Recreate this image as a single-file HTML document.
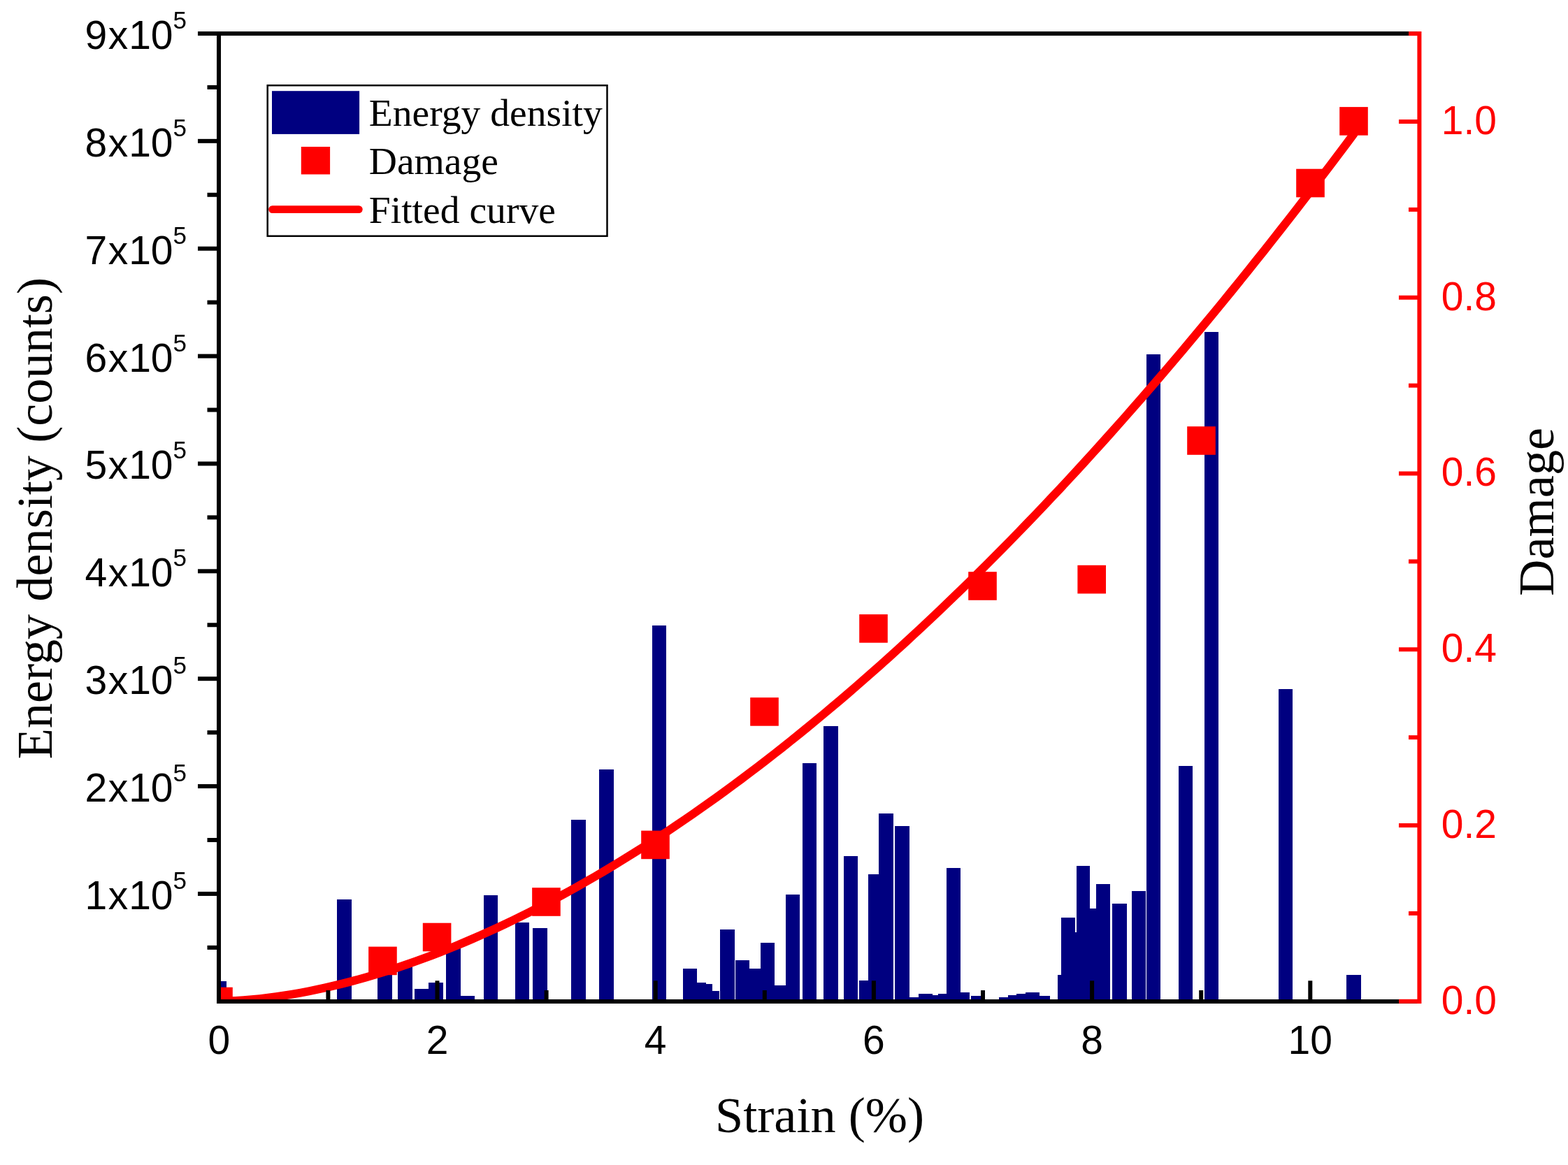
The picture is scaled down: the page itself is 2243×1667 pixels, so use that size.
<!DOCTYPE html><html><head><meta charset="utf-8"><title>Energy density and damage vs strain</title><style>html,body{margin:0;padding:0;background:#fff;}svg{display:block;}</style></head><body>
<svg width="2243" height="1667" viewBox="0 0 2243 1667">
<rect x="0" y="0" width="2243" height="1667" fill="#fff"/>
<defs><clipPath id="pc"><rect x="313.0" y="48.0" width="1717.4" height="1384.8"/></clipPath></defs>
<g clip-path="url(#pc)" fill="#000080" shape-rendering="crispEdges">
<rect x="303" y="1403.8" width="20.7" height="32.2"/>
<rect x="482.2" y="1287.2" width="20.6" height="148.8"/>
<rect x="540.2" y="1375" width="20.7" height="61"/>
<rect x="569.1" y="1378" width="20.7" height="58"/>
<rect x="593.1" y="1415.2" width="20.0" height="20.8"/>
<rect x="613.1" y="1406.2" width="20.8" height="29.8"/>
<rect x="638.1" y="1350" width="20.8" height="86"/>
<rect x="658.9" y="1425.1" width="20.1" height="10.9"/>
<rect x="691.9" y="1281" width="20.2" height="155"/>
<rect x="737.2" y="1320" width="19.7" height="116"/>
<rect x="762" y="1328.2" width="20.9" height="107.8"/>
<rect x="817.3" y="1173.2" width="20.6" height="262.8"/>
<rect x="857.1" y="1100.9" width="21.0" height="335.1"/>
<rect x="933.1" y="895.2" width="19.9" height="540.8"/>
<rect x="977.3" y="1386.1" width="19.6" height="49.9"/>
<rect x="996.9" y="1406.3" width="13.5" height="29.7"/>
<rect x="1010.4" y="1407.9" width="8.6" height="28.1"/>
<rect x="1019" y="1418" width="9.9" height="18"/>
<rect x="1030.2" y="1330.1" width="20.5" height="105.9"/>
<rect x="1052.2" y="1374.1" width="19.7" height="61.9"/>
<rect x="1071.9" y="1386.1" width="16.2" height="49.9"/>
<rect x="1088.1" y="1349.1" width="19.9" height="86.9"/>
<rect x="1108" y="1410" width="16" height="26"/>
<rect x="1124" y="1280.1" width="19.9" height="155.9"/>
<rect x="1148.2" y="1092.2" width="19.6" height="343.8"/>
<rect x="1178.3" y="1039.1" width="20.8" height="396.9"/>
<rect x="1207.2" y="1224.9" width="19.7" height="211.1"/>
<rect x="1229.1" y="1403.1" width="12.9" height="32.9"/>
<rect x="1242" y="1251" width="15" height="185"/>
<rect x="1257" y="1164.1" width="21" height="271.9"/>
<rect x="1280" y="1182.1" width="21" height="253.9"/>
<rect x="1301" y="1427.1" width="13.1" height="8.9"/>
<rect x="1314.1" y="1422" width="19.9" height="14"/>
<rect x="1334" y="1424.2" width="8.2" height="11.8"/>
<rect x="1342.2" y="1422" width="11.7" height="14"/>
<rect x="1353.9" y="1241.9" width="20.0" height="194.1"/>
<rect x="1373.9" y="1419.9" width="13.0" height="16.1"/>
<rect x="1389" y="1424.9" width="19.5" height="11.1"/>
<rect x="1429.1" y="1427.1" width="12.9" height="8.9"/>
<rect x="1442" y="1424.2" width="12" height="11.8"/>
<rect x="1454" y="1422" width="13.1" height="14"/>
<rect x="1467.1" y="1420" width="19.4" height="16"/>
<rect x="1486.5" y="1424.9" width="15.5" height="11.1"/>
<rect x="1513" y="1394.9" width="5" height="41.1"/>
<rect x="1518" y="1313.1" width="20" height="122.9"/>
<rect x="1538" y="1333.8" width="2.1" height="102.2"/>
<rect x="1540.1" y="1239.1" width="18.9" height="196.9"/>
<rect x="1559" y="1300" width="9" height="136"/>
<rect x="1568" y="1265.1" width="20" height="170.9"/>
<rect x="1590.9" y="1293.1" width="21.1" height="142.9"/>
<rect x="1619" y="1275.1" width="20" height="160.9"/>
<rect x="1640" y="507" width="20" height="929"/>
<rect x="1686" y="1095.9" width="20" height="340.1"/>
<rect x="1723" y="475" width="20" height="961"/>
<rect x="1829" y="986" width="20" height="450"/>
<rect x="1926.1" y="1395" width="20.9" height="41"/>
</g>
<g clip-path="url(#pc)"><polyline points="313.30,1432.80 324.98,1432.58 336.66,1432.07 348.34,1431.32 360.02,1430.35 371.70,1429.17 383.38,1427.81 395.06,1426.26 406.74,1424.53 418.41,1422.63 430.09,1420.56 441.77,1418.33 453.45,1415.95 465.13,1413.40 476.81,1410.71 488.49,1407.87 500.17,1404.87 511.85,1401.74 523.53,1398.46 535.21,1395.04 546.89,1391.49 558.57,1387.79 570.25,1383.96 581.93,1380.00 593.61,1375.91 605.29,1371.68 616.97,1367.32 628.64,1362.84 640.32,1358.23 652.00,1353.49 663.68,1348.63 675.36,1343.64 687.04,1338.53 698.72,1333.30 710.40,1327.95 722.08,1322.48 733.76,1316.89 745.44,1311.18 757.12,1305.35 768.80,1299.40 780.48,1293.34 792.16,1287.16 803.84,1280.87 815.52,1274.47 827.19,1267.95 838.87,1261.32 850.55,1254.57 862.23,1247.72 873.91,1240.75 885.59,1233.67 897.27,1226.48 908.95,1219.19 920.63,1211.78 932.31,1204.27 943.99,1196.64 955.67,1188.91 967.35,1181.08 979.03,1173.14 990.71,1165.09 1002.39,1156.93 1014.07,1148.67 1025.74,1140.31 1037.42,1131.84 1049.10,1123.27 1060.78,1114.60 1072.46,1105.82 1084.14,1096.94 1095.82,1087.96 1107.50,1078.87 1119.18,1069.68 1130.86,1060.40 1142.54,1051.01 1154.22,1041.52 1165.90,1031.93 1177.58,1022.25 1189.26,1012.46 1200.94,1002.57 1212.62,992.59 1224.30,982.50 1235.97,972.32 1247.65,962.04 1259.33,951.67 1271.01,941.19 1282.69,930.62 1294.37,919.95 1306.05,909.19 1317.73,898.33 1329.41,887.37 1341.09,876.32 1352.77,865.18 1364.45,853.94 1376.13,842.60 1387.81,831.17 1399.49,819.64 1411.17,808.02 1422.85,796.31 1434.52,784.51 1446.20,772.61 1457.88,760.62 1469.56,748.53 1481.24,736.35 1492.92,724.08 1504.60,711.72 1516.28,699.27 1527.96,686.72 1539.64,674.08 1551.32,661.36 1563.00,648.54 1574.68,635.63 1586.36,622.63 1598.04,609.54 1609.72,596.36 1621.40,583.08 1633.07,569.72 1644.75,556.27 1656.43,542.73 1668.11,529.11 1679.79,515.39 1691.47,501.58 1703.15,487.69 1714.83,473.70 1726.51,459.63 1738.19,445.47 1749.87,431.22 1761.55,416.88 1773.23,402.46 1784.91,387.95 1796.59,373.35 1808.27,358.67 1819.95,343.90 1831.63,329.04 1843.30,314.09 1854.98,299.06 1866.66,283.94 1878.34,268.74 1890.02,253.45 1901.70,238.07 1913.38,222.61 1925.06,207.06 1936.74,191.43" fill="none" stroke="#FF0000" stroke-width="12" stroke-linejoin="round" stroke-linecap="round"/>
<rect x="292.20" y="1412.70" width="40.6" height="40.6" fill="#FF0000"/>
<rect x="527.15" y="1354.60" width="40.6" height="40.6" fill="#FF0000"/>
<rect x="604.80" y="1320.70" width="40.6" height="40.6" fill="#FF0000"/>
<rect x="761.15" y="1270.20" width="40.6" height="40.6" fill="#FF0000"/>
<rect x="917.20" y="1188.60" width="40.6" height="40.6" fill="#FF0000"/>
<rect x="1073.20" y="998.10" width="40.6" height="40.6" fill="#FF0000"/>
<rect x="1229.20" y="879.10" width="40.6" height="40.6" fill="#FF0000"/>
<rect x="1385.20" y="818.20" width="40.6" height="40.6" fill="#FF0000"/>
<rect x="1541.40" y="808.80" width="40.6" height="40.6" fill="#FF0000"/>
<rect x="1698.20" y="610.20" width="40.6" height="40.6" fill="#FF0000"/>
<rect x="1854.20" y="241.70" width="40.6" height="40.6" fill="#FF0000"/>
<rect x="1916.20" y="153.10" width="40.6" height="40.6" fill="#FF0000"/>
</g>
<g stroke="#000" stroke-width="6" fill="none">
<line x1="313" y1="45" x2="313" y2="1436"/>
<line x1="310" y1="1433" x2="2030" y2="1433"/>
<line x1="283" y1="48" x2="2030" y2="48"/>
<line x1="283" y1="1278.93" x2="313" y2="1278.93"/>
<line x1="283" y1="1125.06" x2="313" y2="1125.06"/>
<line x1="283" y1="971.19" x2="313" y2="971.19"/>
<line x1="283" y1="817.32" x2="313" y2="817.32"/>
<line x1="283" y1="663.45" x2="313" y2="663.45"/>
<line x1="283" y1="509.58" x2="313" y2="509.58"/>
<line x1="283" y1="355.71" x2="313" y2="355.71"/>
<line x1="283" y1="201.84" x2="313" y2="201.84"/>
<line x1="296.5" y1="1355.87" x2="313" y2="1355.87"/>
<line x1="296.5" y1="1201.99" x2="313" y2="1201.99"/>
<line x1="296.5" y1="1048.12" x2="313" y2="1048.12"/>
<line x1="296.5" y1="894.25" x2="313" y2="894.25"/>
<line x1="296.5" y1="740.38" x2="313" y2="740.38"/>
<line x1="296.5" y1="586.51" x2="313" y2="586.51"/>
<line x1="296.5" y1="432.64" x2="313" y2="432.64"/>
<line x1="296.5" y1="278.77" x2="313" y2="278.77"/>
<line x1="296.5" y1="124.90" x2="313" y2="124.90"/>
<line x1="469.40" y1="1417" x2="469.40" y2="1433"/>
<line x1="625.50" y1="1403.3" x2="625.50" y2="1433"/>
<line x1="781.60" y1="1417" x2="781.60" y2="1433"/>
<line x1="937.70" y1="1403.3" x2="937.70" y2="1433"/>
<line x1="1093.80" y1="1417" x2="1093.80" y2="1433"/>
<line x1="1249.90" y1="1403.3" x2="1249.90" y2="1433"/>
<line x1="1406.00" y1="1417" x2="1406.00" y2="1433"/>
<line x1="1562.10" y1="1403.3" x2="1562.10" y2="1433"/>
<line x1="1718.20" y1="1417" x2="1718.20" y2="1433"/>
<line x1="1874.30" y1="1403.3" x2="1874.30" y2="1433"/>
</g>
<g stroke="#FF0000" stroke-width="6" fill="none">
<line x1="2030.4" y1="45" x2="2030.4" y2="1436"/>
<line x1="2001" y1="1432.80" x2="2030" y2="1432.80"/>
<line x1="2015" y1="1306.92" x2="2030" y2="1306.92"/>
<line x1="2001" y1="1181.04" x2="2030" y2="1181.04"/>
<line x1="2015" y1="1055.16" x2="2030" y2="1055.16"/>
<line x1="2001" y1="929.28" x2="2030" y2="929.28"/>
<line x1="2015" y1="803.40" x2="2030" y2="803.40"/>
<line x1="2001" y1="677.52" x2="2030" y2="677.52"/>
<line x1="2015" y1="551.64" x2="2030" y2="551.64"/>
<line x1="2001" y1="425.76" x2="2030" y2="425.76"/>
<line x1="2015" y1="299.88" x2="2030" y2="299.88"/>
<line x1="2001" y1="174.00" x2="2030" y2="174.00"/>
<line x1="2015" y1="48.12" x2="2030" y2="48.12"/>
</g>
<text x="267" y="1300.93" font-family='"Liberation Sans", Arial, sans-serif' font-size="57" text-anchor="end" fill="#000"><tspan dx="0 1.5 1 0">1x10</tspan><tspan font-size="35" dy="-29">5</tspan></text>
<text x="267" y="1147.06" font-family='"Liberation Sans", Arial, sans-serif' font-size="57" text-anchor="end" fill="#000"><tspan dx="0 1.5 1 0">2x10</tspan><tspan font-size="35" dy="-29">5</tspan></text>
<text x="267" y="993.19" font-family='"Liberation Sans", Arial, sans-serif' font-size="57" text-anchor="end" fill="#000"><tspan dx="0 1.5 1 0">3x10</tspan><tspan font-size="35" dy="-29">5</tspan></text>
<text x="267" y="839.32" font-family='"Liberation Sans", Arial, sans-serif' font-size="57" text-anchor="end" fill="#000"><tspan dx="0 1.5 1 0">4x10</tspan><tspan font-size="35" dy="-29">5</tspan></text>
<text x="267" y="685.45" font-family='"Liberation Sans", Arial, sans-serif' font-size="57" text-anchor="end" fill="#000"><tspan dx="0 1.5 1 0">5x10</tspan><tspan font-size="35" dy="-29">5</tspan></text>
<text x="267" y="531.58" font-family='"Liberation Sans", Arial, sans-serif' font-size="57" text-anchor="end" fill="#000"><tspan dx="0 1.5 1 0">6x10</tspan><tspan font-size="35" dy="-29">5</tspan></text>
<text x="267" y="377.71" font-family='"Liberation Sans", Arial, sans-serif' font-size="57" text-anchor="end" fill="#000"><tspan dx="0 1.5 1 0">7x10</tspan><tspan font-size="35" dy="-29">5</tspan></text>
<text x="267" y="223.84" font-family='"Liberation Sans", Arial, sans-serif' font-size="57" text-anchor="end" fill="#000"><tspan dx="0 1.5 1 0">8x10</tspan><tspan font-size="35" dy="-29">5</tspan></text>
<text x="267" y="69.97" font-family='"Liberation Sans", Arial, sans-serif' font-size="57" text-anchor="end" fill="#000"><tspan dx="0 1.5 1 0">9x10</tspan><tspan font-size="35" dy="-29">5</tspan></text>
<text x="313.30" y="1508" font-family='"Liberation Sans", Arial, sans-serif' font-size="57" text-anchor="middle" fill="#000">0</text>
<text x="625.50" y="1508" font-family='"Liberation Sans", Arial, sans-serif' font-size="57" text-anchor="middle" fill="#000">2</text>
<text x="937.70" y="1508" font-family='"Liberation Sans", Arial, sans-serif' font-size="57" text-anchor="middle" fill="#000">4</text>
<text x="1249.90" y="1508" font-family='"Liberation Sans", Arial, sans-serif' font-size="57" text-anchor="middle" fill="#000">6</text>
<text x="1562.10" y="1508" font-family='"Liberation Sans", Arial, sans-serif' font-size="57" text-anchor="middle" fill="#000">8</text>
<text x="1874.30" y="1508" font-family='"Liberation Sans", Arial, sans-serif' font-size="57" text-anchor="middle" fill="#000">10</text>
<text x="2061.8" y="1450.60" font-family='"Liberation Sans", Arial, sans-serif' font-size="57" fill="#FF0000">0.0</text>
<text x="2061.8" y="1198.84" font-family='"Liberation Sans", Arial, sans-serif' font-size="57" fill="#FF0000">0.2</text>
<text x="2061.8" y="947.08" font-family='"Liberation Sans", Arial, sans-serif' font-size="57" fill="#FF0000">0.4</text>
<text x="2061.8" y="695.32" font-family='"Liberation Sans", Arial, sans-serif' font-size="57" fill="#FF0000">0.6</text>
<text x="2061.8" y="443.56" font-family='"Liberation Sans", Arial, sans-serif' font-size="57" fill="#FF0000">0.8</text>
<text x="2061.8" y="191.80" font-family='"Liberation Sans", Arial, sans-serif' font-size="57" fill="#FF0000">1.0</text>
<text x="1172.5" y="1619.5" font-family='"Liberation Serif", "Times New Roman", serif' font-size="72.3" text-anchor="middle" fill="#000">Strain (%)</text>
<text transform="translate(74,741.6) rotate(-90)" x="0" y="0" font-family='"Liberation Serif", "Times New Roman", serif' font-size="72.3" text-anchor="middle" fill="#000">Energy density (counts)</text>
<text transform="translate(2221.7,732.3) rotate(-90)" x="0" y="0" font-family='"Liberation Serif", "Times New Roman", serif' font-size="72.3" text-anchor="middle" fill="#000">Damage</text>
<rect x="382.7" y="122.2" width="485.8" height="215.6" fill="#fff" stroke="#000" stroke-width="2.5"/>
<rect x="389" y="130.2" width="125.1" height="61.7" fill="#000080"/>
<rect x="430.8" y="210" width="41.3" height="39.5" fill="#FF0000"/>
<line x1="389.6" y1="299.6" x2="513.3" y2="299.6" stroke="#FF0000" stroke-width="10.8" stroke-linecap="round"/>
<text x="527.8" y="180" font-family='"Liberation Serif", "Times New Roman", serif' font-size="55.6" fill="#000">Energy density</text>
<text x="527.8" y="249.3" font-family='"Liberation Serif", "Times New Roman", serif' font-size="55.6" fill="#000">Damage</text>
<text x="527.8" y="319.2" font-family='"Liberation Serif", "Times New Roman", serif' font-size="55.6" fill="#000">Fitted curve</text>
</svg></body></html>
